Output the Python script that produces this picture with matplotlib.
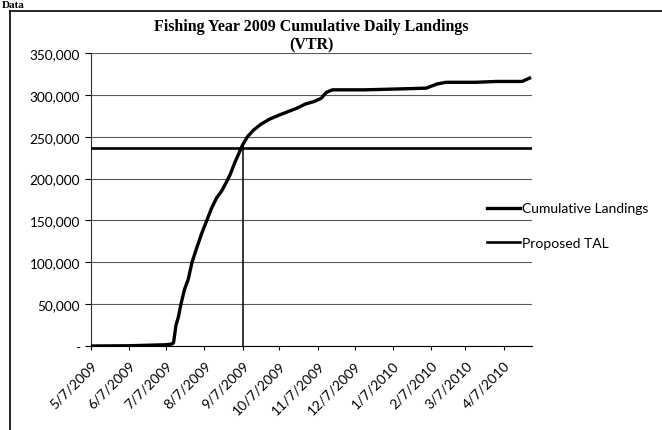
import matplotlib
matplotlib.use("Agg")
import matplotlib.pyplot as plt
import matplotlib.dates as mdates
from matplotlib.lines import Line2D
from matplotlib.ticker import FuncFormatter, MultipleLocator
import pandas as pd

# cumulative landings (lbs)
landing_dates = [
    "2009-05-07", "2009-06-07", "2009-07-07", "2009-07-12", "2009-07-13",
    "2009-07-15", "2009-07-17", "2009-07-19", "2009-07-22", "2009-07-25",
    "2009-07-28", "2009-08-01", "2009-08-05", "2009-08-09", "2009-08-13",
    "2009-08-17", "2009-08-21", "2009-08-25", "2009-08-28", "2009-09-01",
    "2009-09-04", "2009-09-07", "2009-09-11", "2009-09-16", "2009-09-22",
    "2009-09-29", "2009-10-07", "2009-10-14", "2009-10-21", "2009-10-28",
    "2009-11-04", "2009-11-10", "2009-11-14", "2009-11-19", "2009-12-15",
    "2010-01-10", "2010-02-03", "2010-02-12", "2010-02-19", "2010-03-15",
    "2010-04-01", "2010-04-22", "2010-04-28",
]
cumulative = [
    0, 300, 1500, 2500, 4000,
    25000, 35000, 50000, 68000, 80000,
    100000, 118000, 135000, 150000, 165000,
    177000, 185000, 196000, 205000, 220000,
    230000, 240000, 250000, 258000, 265000,
    271000, 276000, 280000, 284000, 289000,
    292000, 296000, 303000, 306000, 306000,
    307000, 308000, 313000, 315000, 315000,
    316000, 316000, 320000,
]
proposed_tal = 237000
tal_dates = ["2009-05-07", "2010-04-30"]
crossing_date = "2009-09-07"
crossing_top = 243000

x_start, x_end = "2009-05-07", "2010-04-30"
y_max = 350000

dates = pd.to_datetime(landing_dates)
tal_x = pd.to_datetime(tal_dates)

fig = plt.figure(figsize=(6.62, 4.31), dpi=100)
ax = fig.add_axes([91 / 662, 1 - 347 / 431, (532 - 91) / 662, (347 - 54) / 431])

ax.plot(dates, cumulative, color="black", lw=2.4, label="Cumulative Landings",
        solid_joinstyle="round", zorder=4)
ax.plot(tal_x, [proposed_tal, proposed_tal], color="black", lw=1.9,
        label="Proposed TAL", zorder=3)
ax.vlines(pd.to_datetime(crossing_date), 0, crossing_top, color="black", lw=1.1, zorder=3)

ax.set_xlim(pd.to_datetime(x_start), pd.to_datetime(x_end))
ax.set_ylim(0, y_max)

ax.yaxis.set_major_locator(MultipleLocator(50000))
ax.yaxis.set_major_formatter(FuncFormatter(lambda v, p: "-" if v == 0 else f"{int(v):,}"))
ax.xaxis.set_major_locator(mdates.MonthLocator(bymonthday=7))
ax.xaxis.set_major_formatter(FuncFormatter(
    lambda v, p: (lambda d: f"{d.month}/{d.day}/{d.year}")(mdates.num2date(v))))

ax.grid(axis="y", color="0.35", lw=0.8)
ax.set_axisbelow(True)
for s in ["top", "right"]:
    ax.spines[s].set_visible(False)
ax.spines["left"].set_color("0.2")
ax.spines["bottom"].set_color("black")

ax.tick_params(axis="y", length=4, width=0.8, pad=4, labelsize=9.8, colors="black")
ax.tick_params(axis="x", length=3, width=0.8, pad=6, labelsize=10)
for lbl in ax.get_yticklabels() + ax.get_xticklabels():
    lbl.set_fontfamily("Lato")
for lbl in ax.get_xticklabels():
    lbl.set_rotation(45)
    lbl.set_ha("right")
    lbl.set_rotation_mode("anchor")

fig.text(311 / 662, 1 - 27 / 431, "Fishing Year 2009 Cumulative Daily Landings",
         ha="center", va="center", fontsize=11.5, fontweight="bold",
         family="Liberation Serif")
fig.text(311 / 662, 1 - 45 / 431, "(VTR)", ha="center", va="center",
         fontsize=11.5, fontweight="bold", family="Liberation Serif")

leg = fig.legend(loc="center left", bbox_to_anchor=(487 / 662, 1 - 226.5 / 431),
                 frameon=False, borderpad=0, borderaxespad=0, handlelength=2.4,
                 handletextpad=0.1, labelspacing=1.6,
                 prop={"family": "Lato", "size": 10})

# outer chart frame from the scanned page
fig.add_artist(Line2D([10 / 662, 1], [1 - 12 / 431, 1 - 12 / 431], color="black", lw=1.2))
fig.add_artist(Line2D([10 / 662, 10 / 662], [0, 1 - 12 / 431], color="black", lw=1.2))
fig.text(2 / 662, 1 - 1 / 431, "Data", ha="left", va="top", fontsize=8,
         fontweight="bold", family="Liberation Serif")

fig.savefig("out.png", dpi=100)
